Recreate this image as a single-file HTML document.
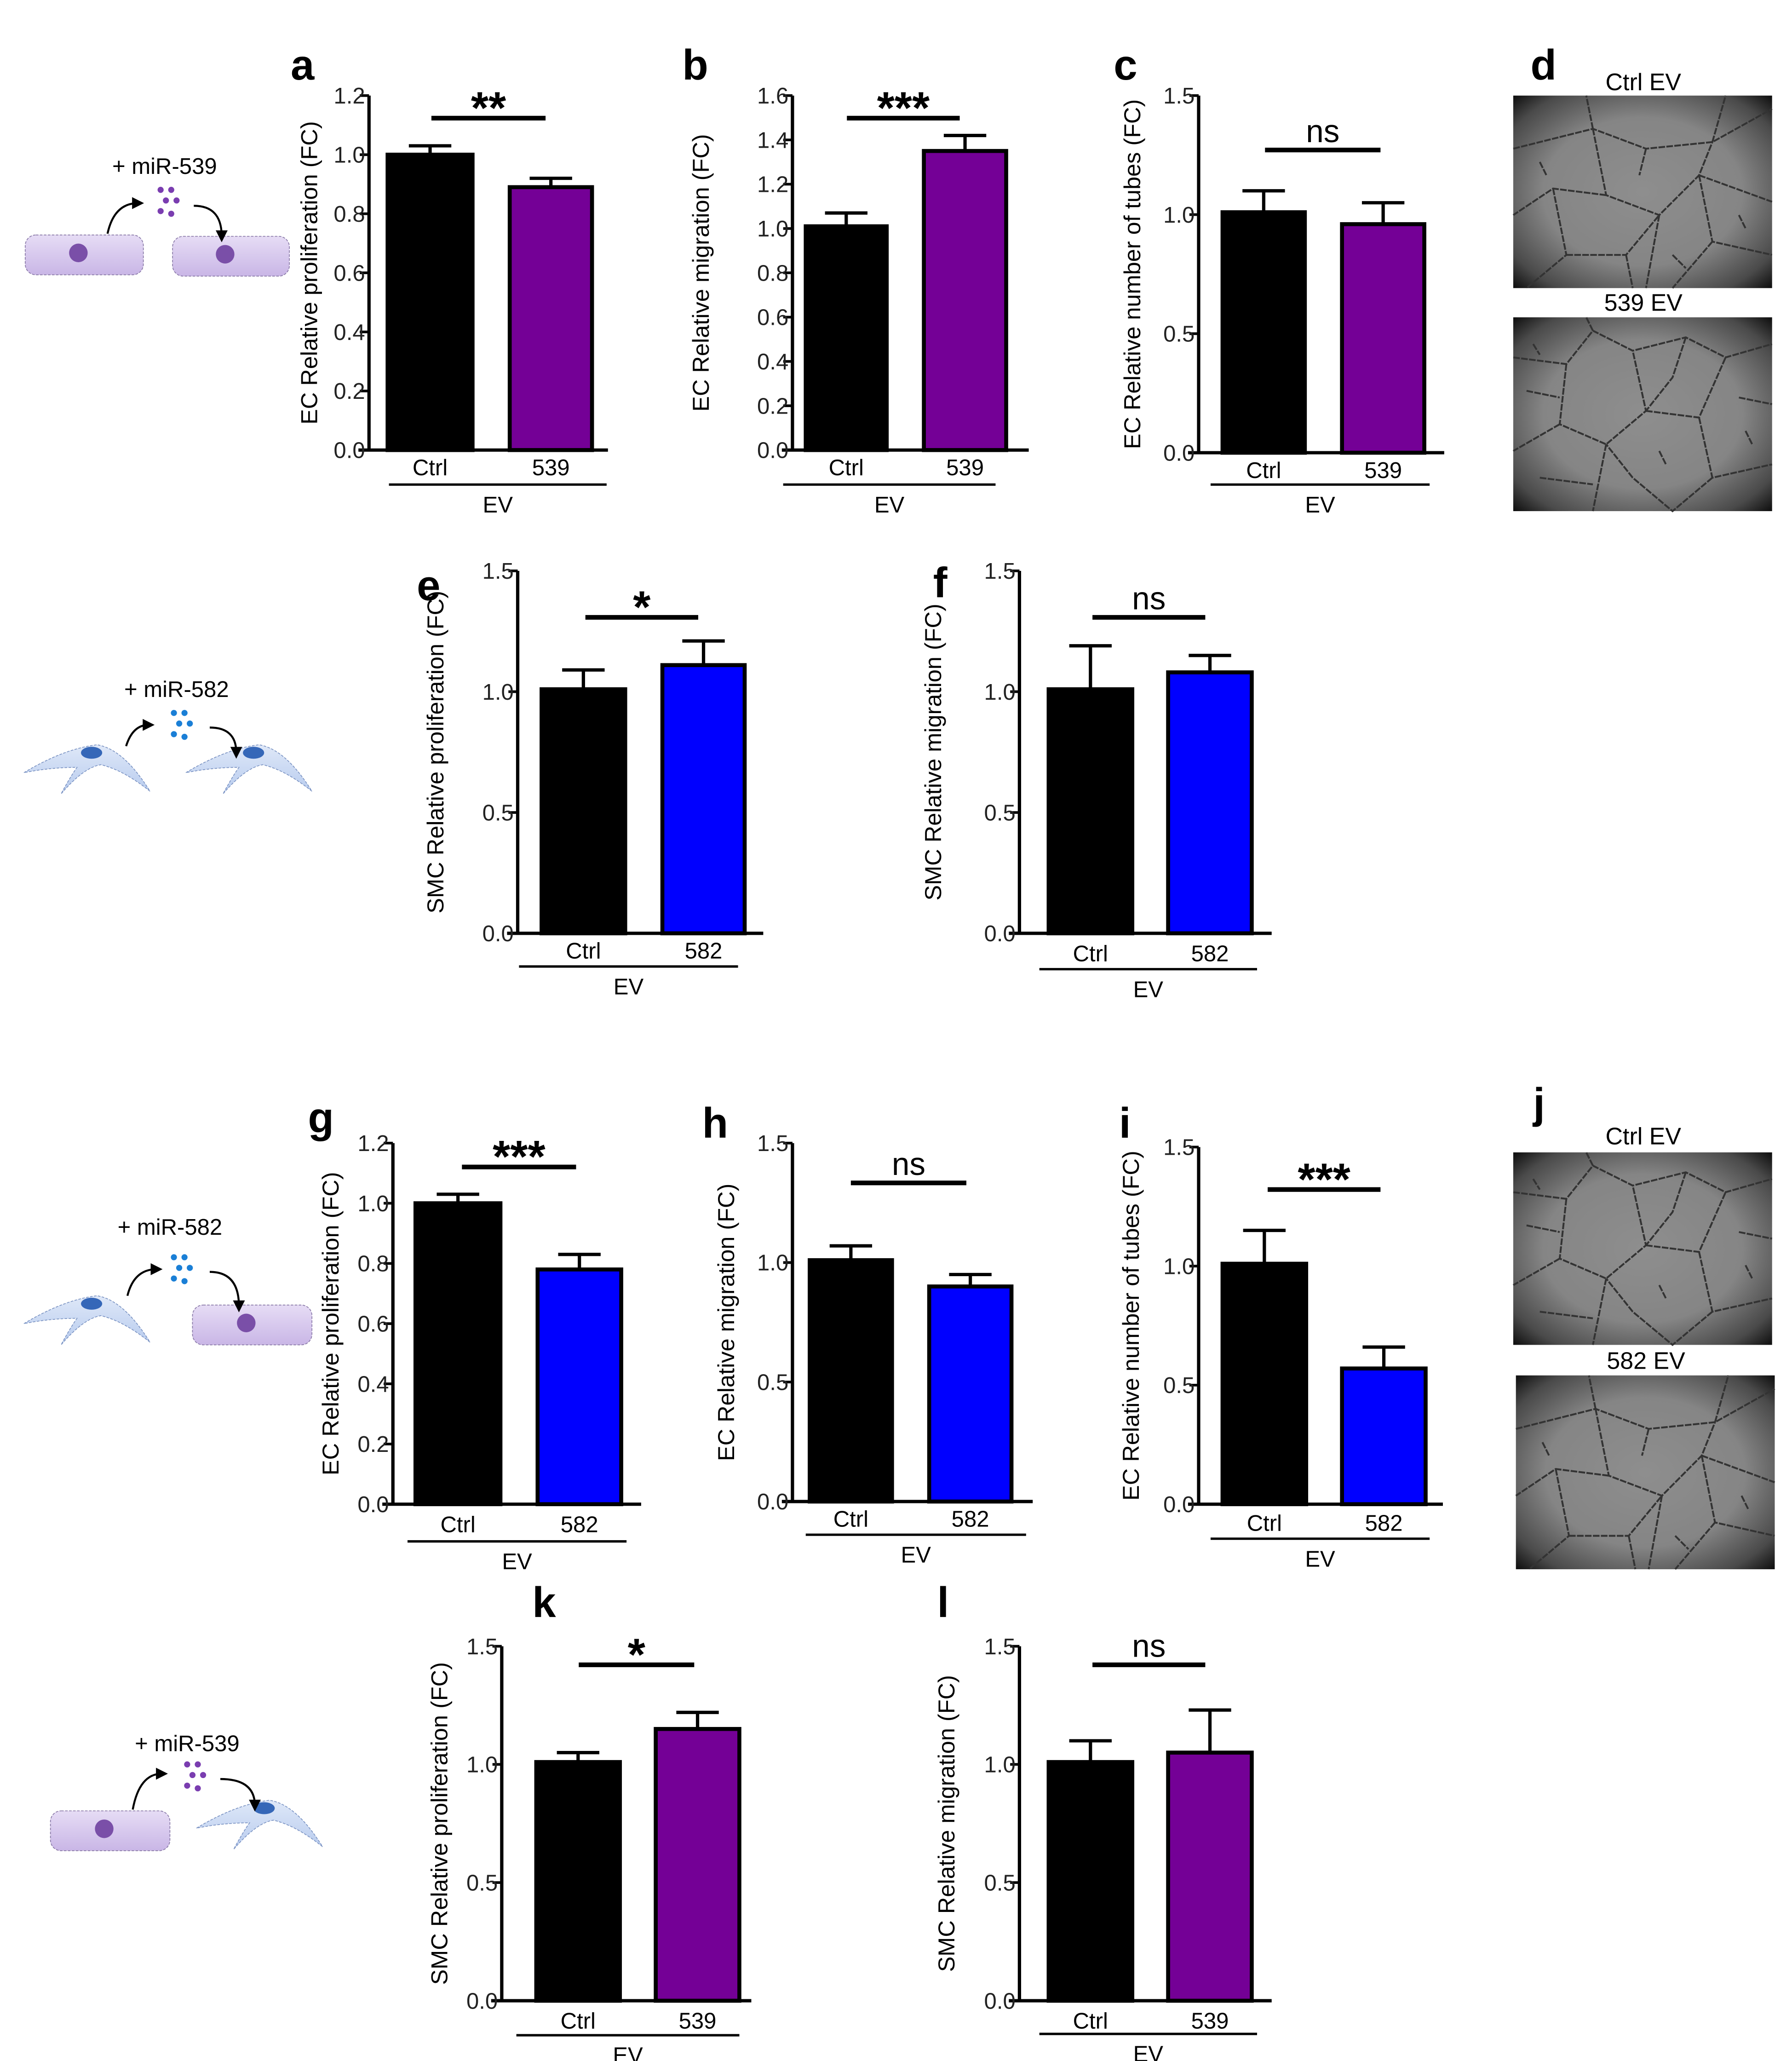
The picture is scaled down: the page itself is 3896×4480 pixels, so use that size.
<!DOCTYPE html>
<html><head><meta charset="utf-8">
<style>
html,body{margin:0;padding:0;background:#fff;}
svg{display:block;font-family:"Liberation Sans",Arial,sans-serif;}
</style></head>
<body>
<svg id="fig" width="3896" height="4480" viewBox="0 0 1350 1552.4" preserveAspectRatio="none" xmlns="http://www.w3.org/2000/svg">
<defs>
<radialGradient id="vig" cx="50%" cy="50%" r="70%">
<stop offset="0%" stop-color="#8e8e8e"/><stop offset="55%" stop-color="#858585"/><stop offset="85%" stop-color="#4a4a4a"/><stop offset="100%" stop-color="#111"/>
</radialGradient>
<linearGradient id="ecg" x1="0" y1="0" x2="0" y2="1"><stop offset="0" stop-color="#e6dcf5"/><stop offset="1" stop-color="#c9b6e6"/></linearGradient>
<linearGradient id="smcg" x1="0" y1="0" x2="0" y2="1"><stop offset="0" stop-color="#dfe8f8"/><stop offset="1" stop-color="#b7cbee"/></linearGradient>
<marker id="arr" markerWidth="6" markerHeight="6" refX="3" refY="3" orient="auto"><path d="M0,0 L6,3 L0,6 Z" fill="#000"/></marker>
</defs>
</svg>
<script>
// ---- chart data ----
const catsA=["Ctrl","539"]; const valsA=[1.00,0.89]; const errA=[0.03,0.03]; const ticksA=["0.0","0.2","0.4","0.6","0.8","1.0","1.2"];
const catsB=["Ctrl","539"]; const valsB=[1.01,1.35]; const errB=[0.06,0.07]; const ticksB=["0.0","0.2","0.4","0.6","0.8","1.0","1.2","1.4","1.6"];
const catsC=["Ctrl","539"]; const valsC=[1.01,0.96]; const errC=[0.09,0.09]; const ticksC=["0.0","0.5","1.0","1.5"];
const catsE=["Ctrl","582"]; const valsE=[1.01,1.11]; const errE=[0.08,0.10]; const ticksE=["0.0","0.5","1.0","1.5"];
const catsF=["Ctrl","582"]; const valsF=[1.01,1.08]; const errF=[0.18,0.07]; const ticksF=["0.0","0.5","1.0","1.5"];
const catsG=["Ctrl","582"]; const valsG=[1.00,0.78]; const errG=[0.03,0.05]; const ticksG=["0.0","0.2","0.4","0.6","0.8","1.0","1.2"];
const catsH=["Ctrl","582"]; const valsH=[1.01,0.90]; const errH=[0.06,0.05]; const ticksH=["0.0","0.5","1.0","1.5"];
const catsI=["Ctrl","582"]; const valsI=[1.01,0.57]; const errI=[0.14,0.09]; const ticksI=["0.0","0.5","1.0","1.5"];
const catsK=["Ctrl","539"]; const valsK=[1.01,1.15]; const errK=[0.04,0.07]; const ticksK=["0.0","0.5","1.0","1.5"];
const catsL=["Ctrl","539"]; const valsL=[1.01,1.05]; const errL=[0.09,0.18]; const ticksL=["0.0","0.5","1.0","1.5"];
const sigLabels=["**","***","ns","*","ns","***","ns","***","*","ns"];

const NS="http://www.w3.org/2000/svg";
const svg=document.getElementById('fig');
function mk(tag,attrs,parent,text){const e=document.createElementNS(NS,tag);for(const k in attrs)e.setAttribute(k,attrs[k]);if(text!==undefined)e.textContent=text;(parent||svg).appendChild(e);return e;}

const PURPLE="#740096", BLUE="#0000ff";
const panels=[
 {id:'a',cats:catsA,vals:valsA,err:errA,ticks:ticksA,max:1.2,ax:278,top:72,zero:339,xend:458,bars:[[292,356],[384,446]],col:PURPLE,br:[325,411,89],sig:0,lab:352,ev:[293,457,365],title:"EC Relative proliferation (FC)",tx:233,letter:[219,50]},
 {id:'b',cats:catsB,vals:valsB,err:errB,ticks:ticksB,max:1.6,ax:597,top:72,zero:339,xend:775,bars:[[607,668],[696,758]],col:PURPLE,br:[638,723,89],sig:1,lab:352,ev:[590,750,365],title:"EC Relative migration (FC)",tx:528,letter:[514,50]},
 {id:'c',cats:catsC,vals:valsC,err:errC,ticks:ticksC,max:1.5,ax:903,top:72,zero:341,xend:1088,bars:[[921,983],[1011,1073]],col:PURPLE,br:[953,1040,113],sig:2,lab:354,ev:[912,1077,365],title:"EC Relative number of tubes (FC)",tx:853,letter:[839,50]},
 {id:'e',cats:catsE,vals:valsE,err:errE,ticks:ticksE,max:1.5,ax:390,top:430,zero:703,xend:575,bars:[[408,471],[499,561]],col:BLUE,br:[441,526,465],sig:3,lab:716,ev:[391,556,728],title:"SMC Relative proliferation (FC)",tx:328,letter:[314,442]},
 {id:'f',cats:catsF,vals:valsF,err:errF,ticks:ticksF,max:1.5,ax:768,top:430,zero:703,xend:958,bars:[[790,853],[880,943]],col:BLUE,br:[823,908,465],sig:4,lab:718,ev:[783,947,730],title:"SMC Relative migration (FC)",tx:703,letter:[703,440]},
 {id:'g',cats:catsG,vals:valsG,err:errG,ticks:ticksG,max:1.2,ax:296,top:861,zero:1133,xend:483,bars:[[313,377],[405,468]],col:BLUE,br:[348,434,879],sig:5,lab:1148,ev:[307,472,1161],title:"EC Relative proliferation (FC)",tx:249,letter:[232,843]},
 {id:'h',cats:catsH,vals:valsH,err:errH,ticks:ticksH,max:1.5,ax:597,top:861,zero:1131,xend:778,bars:[[610,672],[700,762]],col:BLUE,br:[641,728,891],sig:6,lab:1144,ev:[607,773,1156],title:"EC Relative migration (FC)",tx:547,letter:[529,847]},
 {id:'i',cats:catsI,vals:valsI,err:errI,ticks:ticksI,max:1.5,ax:903,top:864,zero:1133,xend:1087,bars:[[921,984],[1011,1074]],col:BLUE,br:[955,1040,896],sig:7,lab:1147,ev:[912,1077,1159],title:"EC Relative number of tubes (FC)",tx:852,letter:[843,847]},
 {id:'k',cats:catsK,vals:valsK,err:errK,ticks:ticksK,max:1.5,ax:378,top:1240,zero:1507,xend:566,bars:[[404,467],[494,557]],col:PURPLE,br:[436,523,1254],sig:8,lab:1522,ev:[389,557,1533],title:"SMC Relative proliferation (FC)",tx:331,letter:[401,1208]},
 {id:'l',cats:catsL,vals:valsL,err:errL,ticks:ticksL,max:1.5,ax:768,top:1240,zero:1507,xend:958,bars:[[790,853],[880,943]],col:PURPLE,br:[823,908,1254],sig:9,lab:1522,ev:[783,947,1532],title:"SMC Relative migration (FC)",tx:713,letter:[706,1208]},
];

panels.forEach(p=>{
  const g=mk('g',{});
  
  
  const y=v=>p.zero-(v/p.max)*(p.zero-p.top);
  p.vals.forEach((v,i)=>{
    const [x0,x1]=p.bars[i]; const cx=(x0+x1)/2;
    const et=y(v+p.err[i]);
    const eb=mk('line',{x1:cx,x2:cx,y1:y(v),y2:et,stroke:'#000','stroke-width':2.5},g);
    
    
    const cap=mk('line',{x1:cx-16,x2:cx+16,y1:et,y2:et,stroke:'#000','stroke-width':2.5},g);
    
    
    const r=mk('rect',{x:x0,y:y(v),width:x1-x0,height:p.zero-y(v),fill:i===0?'#000':p.col,stroke:'#000','stroke-width':3},g);
    
    
    const t=mk('text',{x:cx,y:p.lab+6,'font-size':17,'text-anchor':'middle'},g,p.cats[i]);
    
    
  });
  const ya=mk('line',{x1:p.ax,x2:p.ax,y1:p.top,y2:p.zero+1,stroke:'#000','stroke-width':2.5},g);
  
  
  const xa=mk('line',{x1:p.ax-8,x2:p.xend,y1:p.zero,y2:p.zero,stroke:'#000','stroke-width':2.5},g);
  
  
  const n=p.ticks.length;
  p.ticks.forEach((tl,i)=>{
    const v=p.max*i/(n-1); const ty=y(v);
    const tk=mk('line',{x1:p.ax-7,x2:p.ax,y1:ty,y2:ty,stroke:'#000','stroke-width':2},g);
    
    
    const tt=mk('text',{x:p.ax-3,y:ty+6,'font-size':17,'text-anchor':'end',fill:'#222'},g,tl);
    
    
  });
  const mid=(p.top+p.zero)/2;
  const yt=mk('text',{x:p.tx,y:mid,'font-size':17.5,'text-anchor':'middle',transform:`rotate(-90 ${p.tx} ${mid})`,dy:6},g,p.title);
  
  
  const [b0,b1,by]=p.br;
  const bl=mk('line',{x1:b0,x2:b1,y1:by,y2:by,stroke:'#000','stroke-width':3.5},g);
  
  
  const s=sigLabels[p.sig]; const star=s.indexOf('*')>=0;
  const st=mk('text',{x:(b0+b1)/2,y:star?by+4:by-6,'font-size':star?34:24,'font-weight':star?'bold':'normal','text-anchor':'middle'},g,s);
  
  
  const [e0,e1,ey]=p.ev;
  const el=mk('line',{x1:e0,x2:e1,y1:ey,y2:ey,stroke:'#000','stroke-width':1.8},g);
  
  
  const et=mk('text',{x:(e0+e1)/2,y:ey+21,'font-size':17,'text-anchor':'middle'},g,'EV');
  
  
  const lt=mk('text',{x:p.letter[0],y:p.letter[1]+10,'font-size':32,'font-weight':'bold'},g,p.id);
  
  
});

// ---- schematics ----
function ecCell(x,y,w,h,name){
  const g=mk('g',{});
  
  
  mk('rect',{x:x,y:y,width:w,height:h,rx:8,fill:'url(#ecg)',stroke:'#8a7aa8','stroke-width':0.6,'stroke-dasharray':'2,1'},g);
  mk('circle',{cx:x+w*0.45,cy:y+h*0.45,r:7,fill:'#7a4fa8'},g);
}
function smcCell(x,y,name){
  const g=mk('g',{transform:`translate(${x},${y})`});
  
  
  mk('path',{d:'M0,22 Q30,4 55,1 Q75,4 95,36 Q75,20 58,16 Q45,18 28,38 Q35,25 40,18 Q20,18 0,22Z',fill:'url(#smcg)',stroke:'#7d95c4','stroke-width':0.6,'stroke-dasharray':'2,1'},g);
  mk('ellipse',{cx:51,cy:7,rx:8,ry:4.5,fill:'#3567b8'},g);
}
function dots(cx,cy,col,name){
  const g=mk('g',{});
  
  
  [[-5,-11],[3,-11],[-1,-3],[7,-3],[-5,5],[3,7]].forEach(d=>mk('circle',{cx:cx+d[0],cy:cy+d[1],r:2.3,fill:col},g));
}
function arrows(x1,y1,x2,y2,x3,y3,x4,y4,name){
  const g=mk('g',{fill:'none',stroke:'#000','stroke-width':1.5});
  
  
  mk('path',{d:`M${x1},${y1} Q${x1+5},${y2} ${x2},${y2}`,'marker-end':'url(#arr)'},g);
  mk('path',{d:`M${x3},${y3} Q${x4},${y3} ${x4},${y4}`,'marker-end':'url(#arr)'},g);
}
function label(x,y,t,name,fs){const e=mk('text',{x:x,y:y,'font-size':fs||17,'text-anchor':'middle'},svg,t);}
label(124,131,'+ miR-539','schematic-label-1');
ecCell(19,177,89,30,'ec-cell-donor-1'); ecCell(130,178,88,30,'ec-cell-recipient-1');
dots(126,154,'#7a3db0','mirna-dots-1'); arrows(81,176,104,153,146,155,167,178,'transfer-arrows-1');
label(133,525,'+ miR-582','schematic-label-2');
smcCell(18,560,'smc-cell-donor-2'); smcCell(140,560,'smc-cell-recipient-2');
dots(136,548,'#1a7fd6','mirna-dots-2'); arrows(95,562,112,546,158,548,178,567,'transfer-arrows-2');
label(128,930,'+ miR-582','schematic-label-3');
smcCell(18,975,'smc-cell-donor-3'); ecCell(145,983,90,30,'ec-cell-recipient-3');
dots(136,958,'#1a7fd6','mirna-dots-3'); arrows(96,976,118,956,158,958,180,984,'transfer-arrows-3');
label(141,1319,'+ miR-539','schematic-label-4');
ecCell(38,1364,90,30,'ec-cell-donor-4'); smcCell(148,1355,'smc-cell-recipient-4');
dots(146,1340,'#7a3db0','mirna-dots-4'); arrows(100,1363,122,1336,166,1340,192,1360,'transfer-arrows-4');

// ---- microscopy images ----
const netD=["M0,40 Q40,30 60,25 L100,40 L150,35 L195,10","M60,25 L55,0","M60,25 L70,75 L110,90 L140,60 L150,35","M110,90 L100,145","M70,75 L30,70 L0,90","M140,60 L195,80","M30,70 L40,120 L10,145","M40,120 L85,120 L110,90","M150,35 L160,0","M140,60 L150,110 L195,120","M150,110 L120,145","M85,120 L90,145","M100,40 L95,60","M20,50 L25,60","M170,90 L175,100","M120,120 L130,130"];
const netD2=["M0,30 L40,35 L60,10 L90,25 L130,15 L160,30 L195,20","M40,35 L35,80 L70,95 L100,70 L90,25","M100,70 L140,75 L160,30","M140,75 L150,120 L195,110","M35,80 L0,100","M70,95 L60,145","M150,120 L120,145 L90,120 L70,95","M60,10 L55,0","M130,15 L120,45 L100,70","M20,120 L60,125","M170,60 L195,65","M10,55 L35,60","M110,100 L115,110","M175,85 L180,95","M15,20 L20,28"];
function micro(x,y,w,h,lines,name){
  const g=mk('g',{transform:`translate(${x},${y})`});
  
  
  mk('rect',{x:0,y:0,width:w,height:h,fill:'url(#vig)'},g);
  lines.forEach(d=>mk('path',{d:d,fill:'none',stroke:'#333','stroke-width':1.4,'stroke-dasharray':'5,1',transform:`scale(${w/195},${h/145})`},g));
}
label(1238,68,'Ctrl EV','image-title-d-ctrl',18);
micro(1140,72,195,145,netD,'micrograph-d-ctrl');
label(1238,234,'539 EV','image-title-d-539',18);
micro(1140,239,195,146,netD2,'micrograph-d-539');
label(1238,862,'Ctrl EV','image-title-j-ctrl',18);
micro(1140,868,195,145,netD2,'micrograph-j-ctrl');
label(1240,1031,'582 EV','image-title-j-582',18);
micro(1142,1036,195,146,netD,'micrograph-j-582');
[['d',1153,50],['j',1155,832]].forEach(a=>{const t=mk('text',{x:a[1],y:a[2]+10,'font-size':32,'font-weight':'bold'},svg,a[0]);});
</script>
</body></html>
